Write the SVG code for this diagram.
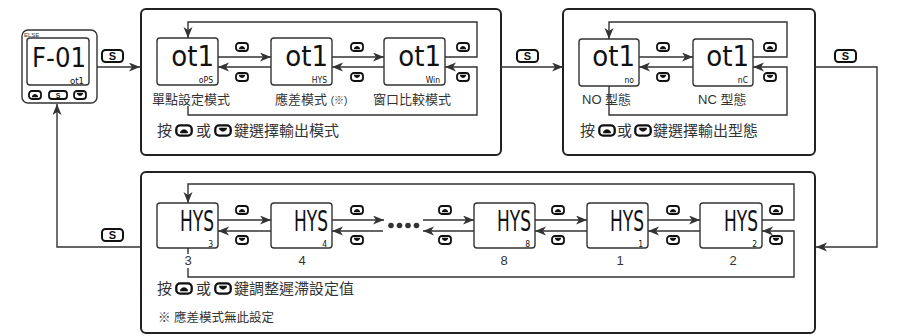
<svg xmlns="http://www.w3.org/2000/svg" xmlns:xlink="http://www.w3.org/1999/xlink" width="900" height="336" viewBox="0 0 900 336">
<style>
.box{fill:#fff;stroke:#222;stroke-width:2}
.disp{fill:#fff;stroke:#333;stroke-width:1.4}
.ln{fill:none;stroke:#333;stroke-width:1.4}
.ar{fill:none;stroke:#333;stroke-width:1.4;marker-end:url(#ah)}
.seg{font-family:"DejaVu Sans Condensed","DejaVu Sans",sans-serif;fill:#111;text-anchor:end}
.big{font-size:29px}
.sub{font-size:8.5px}
.cj{font-family:"Liberation Sans","Noto Sans CJK TC",sans-serif;fill:#333}
.lbl{font-size:13px}
.ins{font-size:15px}
.sbtn{fill:#fff;stroke:#111;stroke-width:2}
.stx{font-family:"Liberation Sans",sans-serif;font-weight:bold;font-size:11px;text-anchor:middle;fill:#111}
</style>
<defs>
<marker id="ah" markerUnits="userSpaceOnUse" markerWidth="12" markerHeight="10" refX="11" refY="4.5" orient="auto">
<path d="M0,0 L11,4.5 L0,9 L3,4.5 z" fill="#333"/>
</marker>
<symbol id="up" viewBox="0 0 14 10">
<rect x="1" y="1" width="12" height="8" rx="3" fill="#fff" stroke="#111" stroke-width="1.8"/>
<path d="M4,7.2 L4,6 Q7,2.2 10,6 L10,7.2 z" fill="#111"/>
</symbol>
<symbol id="dn" viewBox="0 0 14 10">
<rect x="1" y="1" width="12" height="8" rx="3" fill="#fff" stroke="#111" stroke-width="1.8"/>
<path d="M4,2.8 L10,2.8 L10,4 Q7,7.8 4,4 z" fill="#111"/>
</symbol>
</defs>

<g id="device">
<rect x="22" y="30" width="75" height="73" rx="6" fill="#fff" stroke="#333" stroke-width="1.4"/>
<text x="24" y="36.5" font-family="Liberation Sans,sans-serif" font-size="6" fill="#333">ELSE</text>
<rect x="27" y="38" width="62" height="47" rx="3" fill="#fff" stroke="#333" stroke-width="1.4"/>
<text class="seg" x="86" y="67" font-size="27" textLength="54" lengthAdjust="spacingAndGlyphs">F-01</text>
<text class="seg" x="84" y="83.5" font-size="9.5">ot1</text>
<use href="#up" x="27" y="90" width="16" height="10"/>
<rect x="49" y="91" width="18" height="8" rx="3" fill="#fff" stroke="#111" stroke-width="1.8"/>
<text x="58" y="98" font-family="Liberation Sans,sans-serif" font-weight="bold" font-size="7" text-anchor="middle" fill="#111">S</text>
<use href="#dn" x="72" y="90" width="16" height="10"/>
</g>

<g id="box-mode">
<rect class="box" x="141" y="9" width="360" height="146" rx="5"/>
<g id="d-ops"><rect class="disp" x="157" y="38" width="61" height="47" rx="3"/><text class="seg big" x="214" y="66">ot1</text><text class="seg sub" x="213" y="83">oPS</text></g>
<g id="d-hys"><rect class="disp" x="271" y="38" width="61" height="47" rx="3"/><text class="seg big" x="328" y="66">ot1</text><text class="seg sub" x="327" y="83">HYS</text></g>
<g id="d-win"><rect class="disp" x="384" y="38" width="61" height="47" rx="3"/><text class="seg big" x="441" y="66">ot1</text><text class="seg sub" x="440" y="83">Win</text></g>
<use href="#up" x="235" y="42" width="14" height="10"/><use href="#dn" x="235" y="72" width="14" height="10"/>
<use href="#up" x="350" y="42" width="14" height="10"/><use href="#dn" x="350" y="72" width="14" height="10"/>
<use href="#up" x="456" y="42" width="14" height="10"/><use href="#dn" x="456" y="72" width="14" height="10"/>
<text class="cj lbl" x="152" y="104">單點設定模式</text>
<text class="cj lbl" x="275" y="104">應差模式 <tspan font-size="10">(※)</tspan></text>
<text class="cj lbl" x="373" y="104">窗口比較模式</text>
<text class="cj ins" x="157" y="136">按</text>
<use href="#up" x="175" y="124" width="18" height="13"/>
<text class="cj ins" x="196" y="136">或</text>
<use href="#dn" x="214" y="124" width="18" height="13"/>
<text class="cj ins" x="234" y="136">鍵選擇輸出模式</text>
</g>

<g id="box-type">
<rect class="box" x="563" y="9" width="252" height="146" rx="5"/>
<g id="d-no"><rect class="disp" x="579" y="39" width="60" height="47" rx="3"/><text class="seg big" x="635" y="66">ot1</text><text class="seg sub" x="634" y="83">no</text></g>
<g id="d-nc"><rect class="disp" x="693" y="39" width="60" height="47" rx="3"/><text class="seg big" x="749" y="66">ot1</text><text class="seg sub" x="748" y="83">nC</text></g>
<use href="#up" x="656" y="42" width="14" height="10"/><use href="#dn" x="656" y="72" width="14" height="10"/>
<use href="#up" x="763" y="42" width="14" height="10"/><use href="#dn" x="763" y="72" width="14" height="10"/>
<text class="cj lbl" x="582" y="104">NO 型態</text>
<text class="cj lbl" x="698" y="104">NC 型態</text>
<text class="cj ins" x="580" y="136">按</text>
<use href="#up" x="598" y="124" width="18" height="13"/>
<text class="cj ins" x="617" y="136">或</text>
<use href="#dn" x="634" y="124" width="18" height="13"/>
<text class="cj ins" x="653" y="136">鍵選擇輸出型態</text>
</g>

<g id="box-hys">
<rect class="box" x="141" y="172" width="674" height="161" rx="5"/>
<g id="h3"><rect class="disp" x="157" y="203" width="61" height="45" rx="3"/><text class="seg big" x="214" y="231" textLength="34" lengthAdjust="spacingAndGlyphs">HYS</text><text class="seg sub" x="213" y="246.5">3</text></g>
<g id="h4"><rect class="disp" x="271" y="203" width="61" height="45" rx="3"/><text class="seg big" x="328" y="231" textLength="34" lengthAdjust="spacingAndGlyphs">HYS</text><text class="seg sub" x="327" y="246.5">4</text></g>
<g id="h8"><rect class="disp" x="474" y="203" width="61" height="45" rx="3"/><text class="seg big" x="531" y="231" textLength="34" lengthAdjust="spacingAndGlyphs">HYS</text><text class="seg sub" x="530" y="246.5">8</text></g>
<g id="h1"><rect class="disp" x="587" y="203" width="61" height="45" rx="3"/><text class="seg big" x="644" y="231" textLength="34" lengthAdjust="spacingAndGlyphs">HYS</text><text class="seg sub" x="643" y="246.5">1</text></g>
<g id="h2"><rect class="disp" x="700" y="203" width="62" height="45" rx="3"/><text class="seg big" x="758" y="231" textLength="34" lengthAdjust="spacingAndGlyphs">HYS</text><text class="seg sub" x="757" y="246.5">2</text></g>
<use href="#up" x="235" y="205" width="14" height="10"/><use href="#dn" x="235" y="235" width="14" height="10"/>
<use href="#up" x="350" y="205" width="14" height="10"/><use href="#dn" x="350" y="235" width="14" height="10"/>
<use href="#up" x="438" y="205" width="14" height="10"/><use href="#dn" x="438" y="235" width="14" height="10"/>
<use href="#up" x="551" y="205" width="14" height="10"/><use href="#dn" x="551" y="235" width="14" height="10"/>
<use href="#up" x="666" y="205" width="14" height="10"/><use href="#dn" x="666" y="235" width="14" height="10"/>
<use href="#up" x="769" y="205" width="14" height="10"/><use href="#dn" x="769" y="235" width="14" height="10"/>
<g class="cj lbl" text-anchor="middle">
<text x="188" y="265">3</text><text x="302" y="265">4</text><text x="504" y="265">8</text><text x="620" y="265">1</text><text x="733" y="265">2</text>
</g>
<text class="cj ins" x="157" y="294">按</text>
<use href="#up" x="175" y="282" width="18" height="13"/>
<text class="cj ins" x="196" y="294">或</text>
<use href="#dn" x="214" y="282" width="18" height="13"/>
<text class="cj ins" x="234" y="294">鍵調整遲滯設定值</text>
<text class="cj" font-size="12.5" x="158" y="322">※ 應差模式無此設定</text>
</g>

<g id="connectors">
<path class="ar" d="M97,67 H140"/>
<path class="ar" d="M501,67 H563"/>
<path class="ar" d="M815,67 H877 V247 H816"/>
<path class="ar" d="M141,247 H57 V104"/>
<path class="ar" d="M445,57 H477 V22 H188 V38"/>
<path class="ar" d="M188,106 V115 H477 V67 H445"/>
<path class="ar" d="M218,57 H271"/>
<path class="ar" d="M271,67 H218"/>
<path class="ar" d="M332,57 H384"/>
<path class="ar" d="M384,67 H332"/>
<path class="ar" d="M753,57 H787 V22 H609 V39"/>
<path class="ar" d="M609,86 V115 H787 V67 H753"/>
<path class="ar" d="M639,57 H693"/>
<path class="ar" d="M693,67 H639"/>
<path class="ar" d="M762,220 H794 V184 H188 V203"/>
<path class="ar" d="M188,268 V277 H794 V231 H762"/>
<path class="ln" d="M188,248 V254"/>
<path class="ar" d="M218,220 H271"/>
<path class="ar" d="M271,231 H218"/>
<path class="ar" d="M332,220 H384"/>
<path class="ar" d="M383,231 H332"/>
<path class="ar" d="M423,220 H474"/>
<path class="ar" d="M474,231 H423"/>
<path class="ar" d="M535,220 H587"/>
<path class="ar" d="M587,231 H535"/>
<path class="ar" d="M648,220 H700"/>
<path class="ar" d="M700,231 H648"/>
<g fill="#333">
<circle cx="391" cy="225.5" r="2.8"/><circle cx="399.5" cy="225.5" r="2.8"/><circle cx="408" cy="225.5" r="2.8"/><circle cx="416.5" cy="225.5" r="2.8"/>
</g>
</g>

<g id="s-buttons">
<rect class="sbtn" x="102" y="50" width="21" height="12" rx="3.5"/><text class="stx" x="112.5" y="60">S</text>
<rect class="sbtn" x="517" y="50" width="21" height="12" rx="3.5"/><text class="stx" x="527.5" y="60">S</text>
<rect class="sbtn" x="835" y="50" width="21" height="12" rx="3.5"/><text class="stx" x="845.5" y="60">S</text>
<rect class="sbtn" x="102" y="229" width="21" height="12" rx="3.5"/><text class="stx" x="112.5" y="239">S</text>
</g>
</svg>
